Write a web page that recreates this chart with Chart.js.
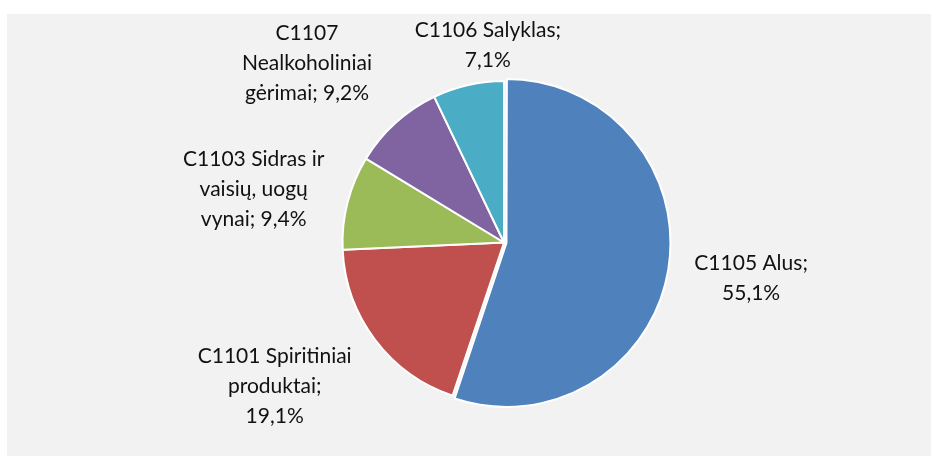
<!DOCTYPE html>
<html>
<head>
<meta charset="utf-8">
<script src="https://cdn.jsdelivr.net/npm/chart.js@4"></script>
<style>
    html, body { margin: 0; padding: 0; background: #ffffff; }
    #wrap {
        position: absolute;
        left: 7px; top: 14px;
        width: 924px; height: 442px;
        background: #f2f2f2;
    }
</style>
</head>
<body>
<div id="wrap"><canvas id="chart"></canvas></div>
<script>
// ---------------- DATA ----------------
// category names ("\n" = where the picture breaks the label)
const categories = [
    "C1105 Alus",
    "C1101 Spiritiniai\nproduktai",
    "C1103 Sidras ir\nvaisių, uogų\nvynai",
    "C1107\nNealkoholiniai\ngėrimai",
    "C1106 Salyklas"
];
const shares = [55.1, 19.1, 9.4, 9.2, 7.1]; // %
const colors = ["#4F81BD", "#C0504D", "#9BBB59", "#8064A2", "#4BACC6"];

// ---------------- LABEL LAYOUT ----------------
// label block centre, relative to pie centre, in units of the radius
const labelPos = [[1.53, 0.22], [-1.42, 0.89], [-1.55, -0.33], [-1.22, -1.11], [-0.10, -1.22]];
const valueOnNewLine = [true, true, false, false, true];

function labelLines(i) {
    const val = shares[i].toFixed(1).replace(".", ",") + "%";
    const txt = categories[i] + (valueOnNewLine[i] ? ";\n" : "; ") + val;
    return txt.split("\n");
}

const outsideLabels = {
    id: "outsideLabels",
    afterDatasetsDraw(chart) {
        const ctx = chart.ctx;
        const meta = chart.getDatasetMeta(0);
        const area = chart.chartArea;
        const cx = (area.left + area.right) / 2;
        const cy = (area.top + area.bottom) / 2;
        const r = meta.data[1].outerRadius;
        ctx.save();
        ctx.font = "21px Lato, 'Open Sans', sans-serif";
        ctx.fillStyle = "#111111";
        ctx.textAlign = "center";
        ctx.textBaseline = "middle";
        const lh = 30;
        meta.data.forEach((arc, i) => {
            const lines = labelLines(i);
            const x = cx + labelPos[i][0] * r;
            const y0 = cy + labelPos[i][1] * r - (lines.length - 1) * lh / 2;
            lines.forEach((ln, k) => ctx.fillText(ln, x, y0 + k * lh));
        });
        ctx.restore();
    }
};

// ---------------- CHART ----------------
window.onload = function () {
    const ctx = document.getElementById("chart").getContext("2d");
    new Chart(ctx, {
        type: "pie",
        data: {
            labels: categories,
            datasets: [{
                data: shares,
                backgroundColor: colors,
                borderColor: "#ffffff",
                borderWidth: 2,
                offset: [10, 0, 0, 0, 0]
            }]
        },
        options: {
            responsive: true,
            maintainAspectRatio: false,
            animation: false,
            layout: { padding: { left: 296, right: 226, top: 61, bottom: 46 } },
            plugins: {
                legend: { display: false },
                tooltip: { enabled: false }
            }
        },
        plugins: [outsideLabels]
    });
};
</script>
</body>
</html>
